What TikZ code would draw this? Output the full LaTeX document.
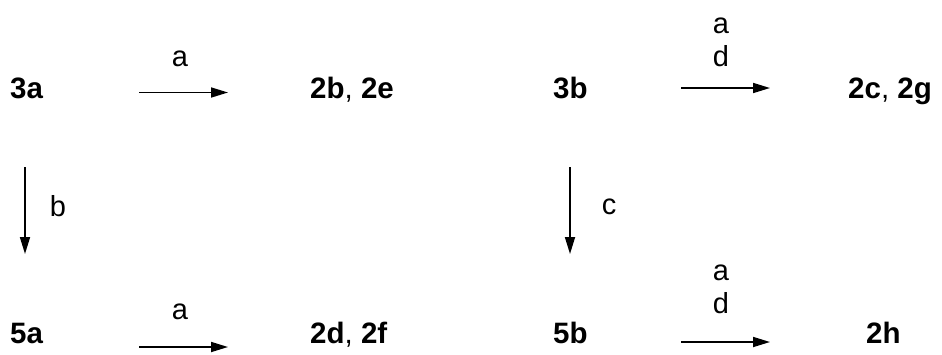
\documentclass[tikz,border=0pt]{standalone}
\usepackage{fontspec}
\setmainfont{Liberation Sans}
\usetikzlibrary{arrows.meta}
\begin{document}
\begin{tikzpicture}[x=1pt,y=-1pt,
  cmpd/.style={font=\fontsize{29.5}{34}\selectfont\bfseries, inner sep=0pt, anchor=base west},
  lbl/.style={font=\fontsize{29}{33}\selectfont, inner sep=0pt},
  rxn/.style={line width=1.7pt, -{Triangle[length=17pt,width=10pt]}}]
\useasboundingbox (0,0) rectangle (942,354);
% compounds
\node[cmpd] (c3a) at (10,98.5) {3a};
\node[cmpd] (c2be) at (310,98.5) {2b\textmd{,} 2e};
\node[cmpd] (c3b) at (553,98.5) {3b};
\node[cmpd] (c2cg) at (848,98.5) {2c\textmd{,} 2g};
\node[cmpd] (c5a) at (10,343.5) {5a};
\node[cmpd] (c2df) at (310,343.5) {2d\textmd{,} 2f};
\node[cmpd] (c5b) at (553,343.5) {5b};
\node[cmpd] (c2h) at (866,343.5) {2h};
% arrow endpoints
\coordinate (a1s) at (139,92.5); \coordinate (a1e) at (228,92.5);
\coordinate (a2s) at (681,88); \coordinate (a2e) at (770,88);
\coordinate (a3s) at (139,347); \coordinate (a3e) at (228,347);
\coordinate (a4s) at (681,342); \coordinate (a4e) at (770,342);
\coordinate (d1s) at (25,167); \coordinate (d1e) at (25,254);
\coordinate (d2s) at (570,167); \coordinate (d2e) at (570,254);
\draw[rxn] (a1s) -- (a1e);
\draw[rxn] (a2s) -- (a2e);
\draw[rxn] (a3s) -- (a3e);
\draw[rxn] (a4s) -- (a4e);
\draw[rxn] (d1s) -- (d1e);
\draw[rxn] (d2s) -- (d2e);
% labels
\node[lbl] (l1) at (180,59) {a};
\node[lbl] (l2a) at (721,26) {a};
\node[lbl] (l2d) at (721,56) {d};
\node[lbl] (l3) at (180,312) {a};
\node[lbl] (l4a) at (721,273) {a};
\node[lbl] (l4d) at (721,303) {d};
\node[lbl] (lb) at (58,206) {b};
\node[lbl] (lc) at (609,207) {c};
\end{tikzpicture}
\end{document}
